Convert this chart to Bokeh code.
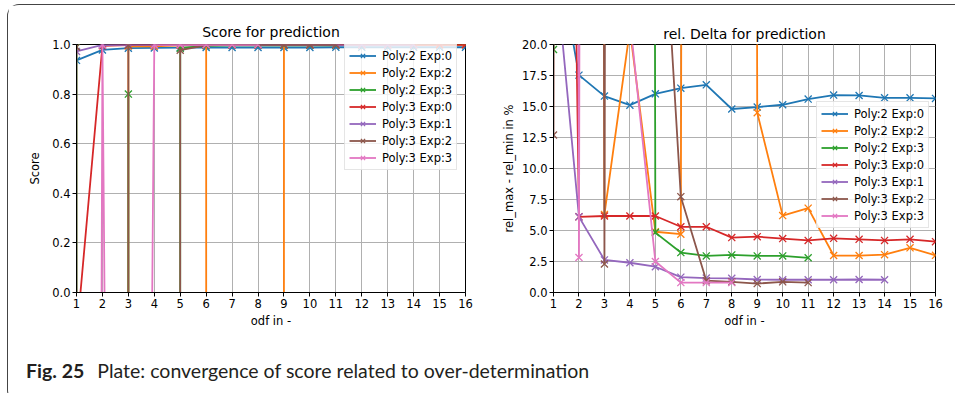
import numpy as np
from bokeh.plotting import figure
from bokeh.models import Range1d, Legend, LegendItem, Div, NumeralTickFormatter
from bokeh.layouts import column, row
from bokeh.embed import file_html
from bokeh.resources import INLINE

NaN = float("nan")

# ---------------- data ----------------
odf = list(range(1, 17))
series_labels = ["Poly:2 Exp:0", "Poly:2 Exp:2", "Poly:2 Exp:3", "Poly:3 Exp:0",
                 "Poly:3 Exp:1", "Poly:3 Exp:2", "Poly:3 Exp:3"]
series_colors = ["#1f77b4", "#ff7f0e", "#2ca02c", "#d62728", "#9467bd", "#8c564b", "#e377c2"]

# Score for prediction (very negative values lie far below the visible range)
score_p2e0 = [0.936, 0.978, 0.985, 0.986, 0.987, 0.988, 0.988, 0.988, 0.988, 0.988, 0.989, 0.989, 0.989, 0.989, 0.989, 0.989]
score_p2e2 = [-1000, -1000, 0.994, 0.993, 0.997, 0.998, -1000, -1000, 0.998, 0.999, 0.999, 0.999, 0.999, 0.999, 0.999, 0.999]
score_p2e3 = [0.99, -1000, 0.8, -1000, 0.985, 0.995, 0.997, 0.997, 0.997, 0.997, 0.997, NaN, NaN, NaN, NaN, NaN]
score_p3e0 = [-0.18, 0.995, 0.998, 0.999, 0.999, 0.999, 0.999, 0.999, 0.999, 0.999, 0.999, 0.999, 0.999, 0.999, 0.999, 0.999]
score_p3e1 = [0.972, 0.998, 0.999, 0.999, 0.999, 0.999, 0.999, 0.999, 0.999, 0.999, 0.999, 0.999, 0.999, 0.999, NaN, NaN]
score_p3e2 = [0.99, -1000, 0.997, -1000, 0.977, 0.997, 0.999, 0.999, 0.999, 0.999, 0.999, NaN, NaN, NaN, NaN, NaN]
score_p3e3 = [-30, 0.999, -11.5, 0.999, 0.999, 0.999, 0.999, 0.999, NaN, NaN, NaN, NaN, NaN, NaN, NaN, NaN]

# rel. Delta for prediction (huge values lie far above the visible range)
delta_p2e0 = [29, 17.53, 15.84, 15.11, 16.02, 16.48, 16.75, 14.8, 14.95, 15.14, 15.6, 15.92, 15.89, 15.7, 15.7, 15.65]
delta_p2e2 = [1000, 1000, 6.3, 21.2, 4.9, 4.7, 1000, 1000, 14.5, 6.2, 6.8, 2.98, 2.98, 3.05, 3.6, 3.0]
delta_p2e3 = [19.6, 1000, 1000, 1000, 4.83, 3.22, 2.95, 3.03, 2.95, 2.95, 2.8, NaN, NaN, NaN, NaN, NaN]
delta_p3e0 = [150, 6.1, 6.17, 6.17, 6.17, 5.3, 5.3, 4.43, 4.5, 4.35, 4.2, 4.37, 4.29, 4.2, 4.29, 4.1]
delta_p3e1 = [28, 6.1, 2.63, 2.4, 2.08, 1.24, 1.16, 1.14, 1.05, 1.03, 1.03, 1.03, 1.05, 1.03, NaN, NaN]
delta_p3e2 = [12.7, 1000, 2.3, 1000, 42, 7.73, 0.95, 0.86, 0.72, 0.86, 0.8, NaN, NaN, NaN, NaN, NaN]
delta_p3e3 = [1000, 2.82, 1000, 22, 2.5, 0.8, 0.8, 0.8, NaN, NaN, NaN, NaN, NaN, NaN, NaN, NaN]

score_series = [score_p2e0, score_p2e2, score_p2e3, score_p3e0, score_p3e1, score_p3e2, score_p3e3]
delta_series = [delta_p2e0, delta_p2e2, delta_p2e3, delta_p3e0, delta_p3e1, delta_p3e2, delta_p3e3]

score_ticks = [0.0, 0.2, 0.4, 0.6, 0.8, 1.0]
delta_ticks = [0.0, 2.5, 5.0, 7.5, 10.0, 12.5, 15.0, 17.5, 20.0]

FONT = "DejaVu Sans"


def make_fig(title, ylabel, ymax, yticks, series, width, height, mbl, mbt, mbr, mbb,
             legend_loc, title_standoff, ylab_standoff):
    p = figure(width=width, height=height, output_backend="svg", toolbar_location=None,
               x_range=Range1d(1, 16), y_range=Range1d(0, ymax),
               min_border_left=mbl, min_border_top=mbt, min_border_right=mbr,
               min_border_bottom=mbb, title=title)
    p.background_fill_color = "white"
    p.border_fill_color = "white"
    p.outline_line_color = "black"
    p.outline_line_width = 1
    p.outline_line_alpha = 1

    p.title.align = "center"
    p.title.text_font = FONT
    p.title.text_font_size = "14px"
    p.title.text_font_style = "normal"
    p.title.text_color = "black"
    p.title.standoff = title_standoff

    p.xaxis.ticker = odf
    p.yaxis.ticker = yticks
    p.yaxis.formatter = NumeralTickFormatter(format="0.0")
    for ax in (p.xaxis, p.yaxis):
        ax.axis_line_color = "black"
        ax.major_tick_line_color = "black"
        ax.major_tick_in = 0
        ax.major_tick_out = 4
        ax.minor_tick_line_color = None
        ax.major_label_text_font = FONT
        ax.major_label_text_font_size = "11.5px"
        ax.major_label_text_color = "black"
        ax.major_label_standoff = 2
        ax.axis_label_text_font = FONT
        ax.axis_label_text_font_size = "11.5px"
        ax.axis_label_text_font_style = "normal"
        ax.axis_label_text_color = "black"
    p.xaxis.axis_label = "odf in -"
    p.xaxis.axis_label_standoff = 3
    p.yaxis.axis_label = ylabel
    p.yaxis.axis_label_standoff = ylab_standoff

    p.grid.grid_line_color = "#b0b0b0"
    p.grid.grid_line_width = 1
    p.grid.grid_line_alpha = 1

    items = []
    for lab, col, ys in zip(series_labels, series_colors, series):
        y = np.array(ys, dtype=float)
        lr = p.line(odf, y, line_color=col, line_width=1.8)
        sr = p.scatter(odf, y, marker="x", size=10, line_color=col, line_width=1.3)
        items.append(LegendItem(label=lab, renderers=[lr, sr]))

    leg = Legend(items=items, location=legend_loc)
    leg.label_text_font = FONT
    leg.label_text_font_size = "11.5px"
    leg.label_text_color = "black"
    leg.glyph_width = 27
    leg.glyph_height = 15
    leg.label_height = 15
    leg.spacing = 2
    leg.padding = 4
    leg.margin = 0
    leg.label_standoff = 6
    leg.border_line_color = "#cccccc"
    leg.border_line_width = 1
    leg.background_fill_color = "white"
    leg.background_fill_alpha = 0.8
    p.add_layout(leg)
    return p


p1 = make_fig("Score for prediction", "Score", 1.0, score_ticks, score_series,
              width=471, height=335, mbl=68, mbt=37, mbr=14, mbb=48,
              legend_loc=(268, 122), title_standoff=9, ylab_standoff=7)
p2 = make_fig("rel. Delta for prediction", "rel_max - rel_min in %", 20.0, delta_ticks, delta_series,
              width=475, height=335, mbl=74, mbt=39, mbr=19, mbb=48,
              legend_loc=(263, 64), title_standoff=5, ylab_standoff=3)

cap = Div(text=('<div style="font-family:Lato, sans-serif; font-size:19.5px; color:#231f20; '
                'padding:12px 0 0 13px; white-space:nowrap;">'
                '<b>Fig. 25</b><span style="margin-left:13px">'
                'Plate: convergence of score related to over-determination</span></div>'),
          width=946, height=51)

layout = column(row(p1, p2), cap, margin=(4, 0, 0, 7),
                styles={"border-left": "1.5px solid #444", "border-top": "1.5px solid #444",
                        "border-bottom": "1.5px solid #444",
                        "border-top-left-radius": "12px", "border-bottom-left-radius": "12px"})

open("out.html", "w").write(file_html(layout, INLINE))
